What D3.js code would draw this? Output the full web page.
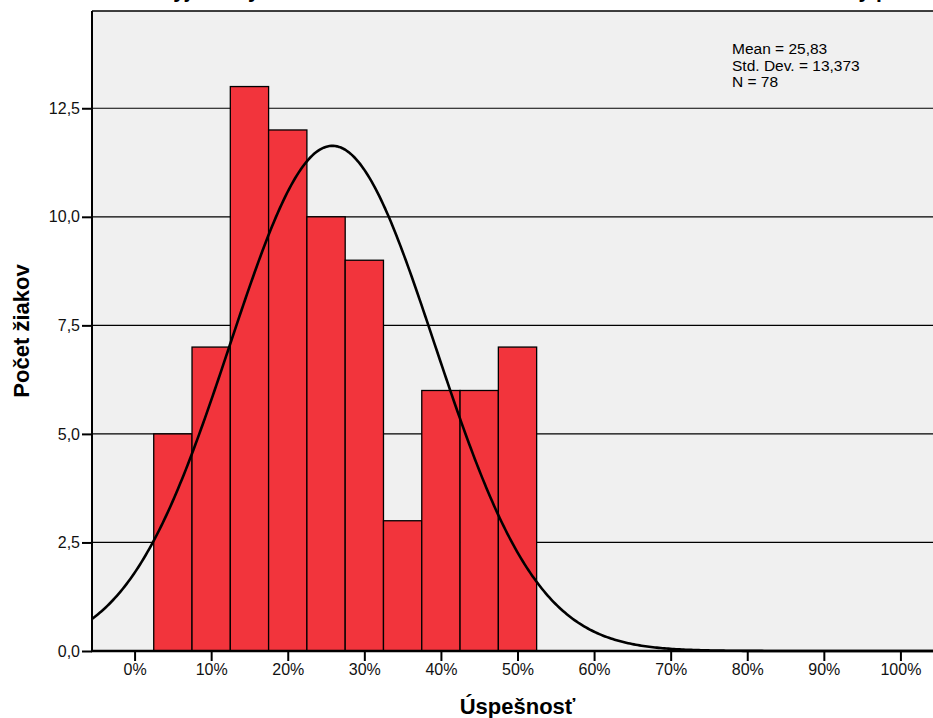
<!DOCTYPE html>
<html>
<head>
<meta charset="utf-8">
<script src="https://cdn.jsdelivr.net/npm/d3@7"></script>
<style>
  body { margin: 0; background: #fff; }
  svg { display: block; font-family: "Liberation Sans", Arial, sans-serif; }
</style>
</head>
<body>
<svg id="hist" width="933" height="718"></svg>
<script>
// histogram bins (centre in %, count)
const binCenters = [5, 10, 15, 20, 25, 30, 35, 40, 45, 50];
const binCounts = [5, 7, 13, 12, 10, 9, 3, 6, 6, 7];
const binWidth = 5;

const yTicks = [0, 2.5, 5, 7.5, 10, 12.5];
const xTicks = [0, 10, 20, 30, 40, 50, 60, 70, 80, 90, 100];

const mean = 25.83;
const stdDev = 13.373;
const n = 78;
const statLines = ['Mean = 25,83', 'Std. Dev. = 13,373', 'N = 78'];

const svg = d3.select('svg#hist');
const margin = { top: 11, left: 92, bottom: 67, right: -10 };
const width = 933, height = 718;
const innerWidth = width - margin.left - margin.right;
const innerHeight = height - margin.top - margin.bottom;

const xScale = d3.scaleLinear()
  .domain([-5.56, 105.56])
  .range([0, innerWidth]);
const yScale = d3.scaleLinear()
  .domain([0, 14.74])
  .range([innerHeight, 0]);

const fmtComma = d => d3.format('.1f')(d).replace('.', ',');

// title (cut off by the top of the page, only the descenders show)
svg.append('text')
  .attr('x', 45)
  .attr('y', -2)
  .style('font-size', '21px')
  .style('font-weight', 'bold')
  .text('Rozdelenie vyjadrený ako celková úroveň žiakov na konci roka – test z matematiky pre 9. ročník');

const g = svg.append('g')
  .attr('transform', `translate(${margin.left},${margin.top})`);

g.append('rect')
  .attr('width', innerWidth)
  .attr('height', innerHeight)
  .attr('fill', '#f0f0f0');

// grid lines
g.selectAll('.grid').data(yTicks.filter(d => d > 0))
  .enter().append('line')
    .attr('class', 'grid')
    .attr('x1', 0)
    .attr('x2', innerWidth)
    .attr('y1', d => yScale(d))
    .attr('y2', d => yScale(d))
    .attr('stroke', '#000')
    .attr('stroke-width', 1.2);

// bars
g.selectAll('.bar').data(binCenters)
  .enter().append('rect')
    .attr('class', 'bar')
    .attr('x', d => xScale(d - binWidth / 2))
    .attr('width', d => xScale(d + binWidth / 2) - xScale(d - binWidth / 2))
    .attr('y', (d, i) => yScale(binCounts[i]))
    .attr('height', (d, i) => innerHeight - yScale(binCounts[i]))
    .attr('fill', '#f2343c')
    .attr('stroke', '#000')
    .attr('stroke-width', 1.3);

// normal curve scaled to counts
const normal = x => n * binWidth / (stdDev * Math.sqrt(2 * Math.PI)) *
  Math.exp(-0.5 * Math.pow((x - mean) / stdDev, 2));
const curveX = d3.range(xScale.domain()[0], xScale.domain()[1], 0.25);
g.append('path')
  .datum(curveX)
  .attr('fill', 'none')
  .attr('stroke', '#000')
  .attr('stroke-width', 2.6)
  .attr('d', d3.line().x(d => xScale(d)).y(d => yScale(normal(d))));

// axes
const xAxis = d3.axisBottom(xScale)
  .tickValues(xTicks)
  .tickFormat(d => d + '%')
  .tickSize(10)
  .tickPadding(3);
const yAxis = d3.axisLeft(yScale)
  .tickValues(yTicks)
  .tickFormat(fmtComma)
  .tickSize(10)
  .tickPadding(2);

const xAxisG = g.append('g')
  .attr('transform', `translate(0,${innerHeight})`)
  .call(xAxis);
const yAxisG = g.append('g').call(yAxis);

[xAxisG, yAxisG].forEach(ax => {
  ax.select('.domain').remove();
  ax.selectAll('.tick line').attr('stroke', '#000').attr('stroke-width', 2);
  ax.selectAll('.tick text')
    .attr('fill', '#111')
    .style('font-size', '16px')
    .style('font-family', '"Liberation Sans", Arial, sans-serif');
});

// plot frame lines (left, top, bottom)
g.append('line')
  .attr('x1', 0).attr('x2', 0).attr('y1', 0).attr('y2', innerHeight)
  .attr('stroke', '#000').attr('stroke-width', 2);
g.append('line')
  .attr('x1', 0).attr('x2', innerWidth).attr('y1', 0).attr('y2', 0)
  .attr('stroke', '#000').attr('stroke-width', 1.5);
g.append('line')
  .attr('x1', -1).attr('x2', innerWidth).attr('y1', innerHeight).attr('y2', innerHeight)
  .attr('stroke', '#000').attr('stroke-width', 2.5);

// stats box
const stats = g.append('text')
  .attr('x', 640)
  .attr('y', 43)
  .style('font-size', '15.5px')
  .attr('fill', '#000');
statLines.forEach((t, i) => {
  stats.append('tspan')
    .attr('x', 640)
    .attr('dy', i === 0 ? 0 : 16.5)
    .text(t);
});

// axis labels
svg.append('text')
  .attr('x', margin.left + xScale(50))
  .attr('y', 714)
  .attr('text-anchor', 'middle')
  .style('font-size', '22px')
  .style('font-weight', 'bold')
  .text('Úspešnosť');

svg.append('text')
  .attr('transform', `translate(29,${margin.top + 320}) rotate(-90)`)
  .attr('text-anchor', 'middle')
  .style('font-size', '22px')
  .style('font-weight', 'bold')
  .text('Počet žiakov');
</script>
</body>
</html>
